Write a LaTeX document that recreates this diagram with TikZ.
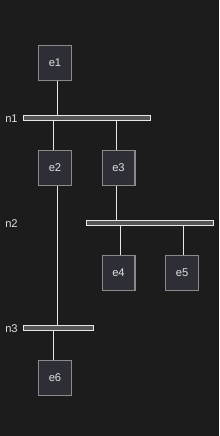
\documentclass[tikz,border=0pt]{standalone}
\usepackage{fontspec}
\setmainfont{Liberation Sans}
\begin{document}
\begin{tikzpicture}[x=0.75pt,y=-0.75pt,
  box/.style={draw=boxborder,fill=boxfill,line width=0.9pt,minimum width=24.6pt,minimum height=26.2pt,inner sep=0pt,text=labeltext,font=\fontsize{8.4}{10}\selectfont},
  bar/.style={draw=barborder,fill=barfill,line width=0.9pt,minimum height=3.6pt,inner sep=0pt},
  lbl/.style={text=labeltext,font=\fontsize{8.4}{10}\selectfont,inner sep=0pt},
  conn/.style={draw=linecol,line width=0.75pt}]
\definecolor{bg}{HTML}{1C1C1C}
\definecolor{boxfill}{HTML}{2E2E36}
\definecolor{boxborder}{HTML}{8A8A8A}
\definecolor{barfill}{HTML}{555555}
\definecolor{barborder}{HTML}{E6E6E6}
\definecolor{labeltext}{HTML}{E0E0E0}
\definecolor{linecol}{HTML}{E6E6E6}
\fill[bg] (0,0) rectangle (219,436);
\useasboundingbox (0,0) rectangle (219,436);
% bars
\node[bar,minimum width=95.5pt] (n1) at (87,118) {};
\node[bar,minimum width=95.5pt] (n2) at (150,223) {};
\node[bar,minimum width=52.8pt] (n3) at (58.5,328) {};
\node[lbl] (l1) at (11.5,118.5) {n1};
\node[lbl] (l2) at (11.5,223.5) {n2};
\node[lbl] (l3) at (11.5,328.5) {n3};
% boxes
\node[box] (e1) at (55,63) {e1};
\node[box] (e2) at (55,168) {e2};
\node[box] (e3) at (118.5,168) {e3};
\node[box] (e4) at (118.5,273) {e4};
\node[box] (e5) at (182,273) {e5};
\node[box] (e6) at (55,378) {e6};
% connectors
\draw[conn] ([xshift=1.7pt]e1.south) -- ([xshift=1.7pt]e1.south |- n1.north);
\draw[conn] ([xshift=-1.3pt]e2.north |- n1.south) -- ([xshift=-1.3pt]e2.north);
\draw[conn] ([xshift=-1.6pt]e3.north |- n1.south) -- ([xshift=-1.6pt]e3.north);
\draw[conn] ([xshift=-1.6pt]e3.south) -- ([xshift=-1.6pt]e3.south |- n2.north);
\draw[conn] ([xshift=1.4pt]e4.north |- n2.south) -- ([xshift=1.4pt]e4.north);
\draw[conn] ([xshift=1pt]e5.north |- n2.south) -- ([xshift=1pt]e5.north);
\draw[conn] ([xshift=1.7pt]e2.south) -- ([xshift=1.7pt]e2.south |- n3.north);
\draw[conn] ([xshift=-1.3pt]e6.north |- n3.south) -- ([xshift=-1.3pt]e6.north);
\end{tikzpicture}
\end{document}
